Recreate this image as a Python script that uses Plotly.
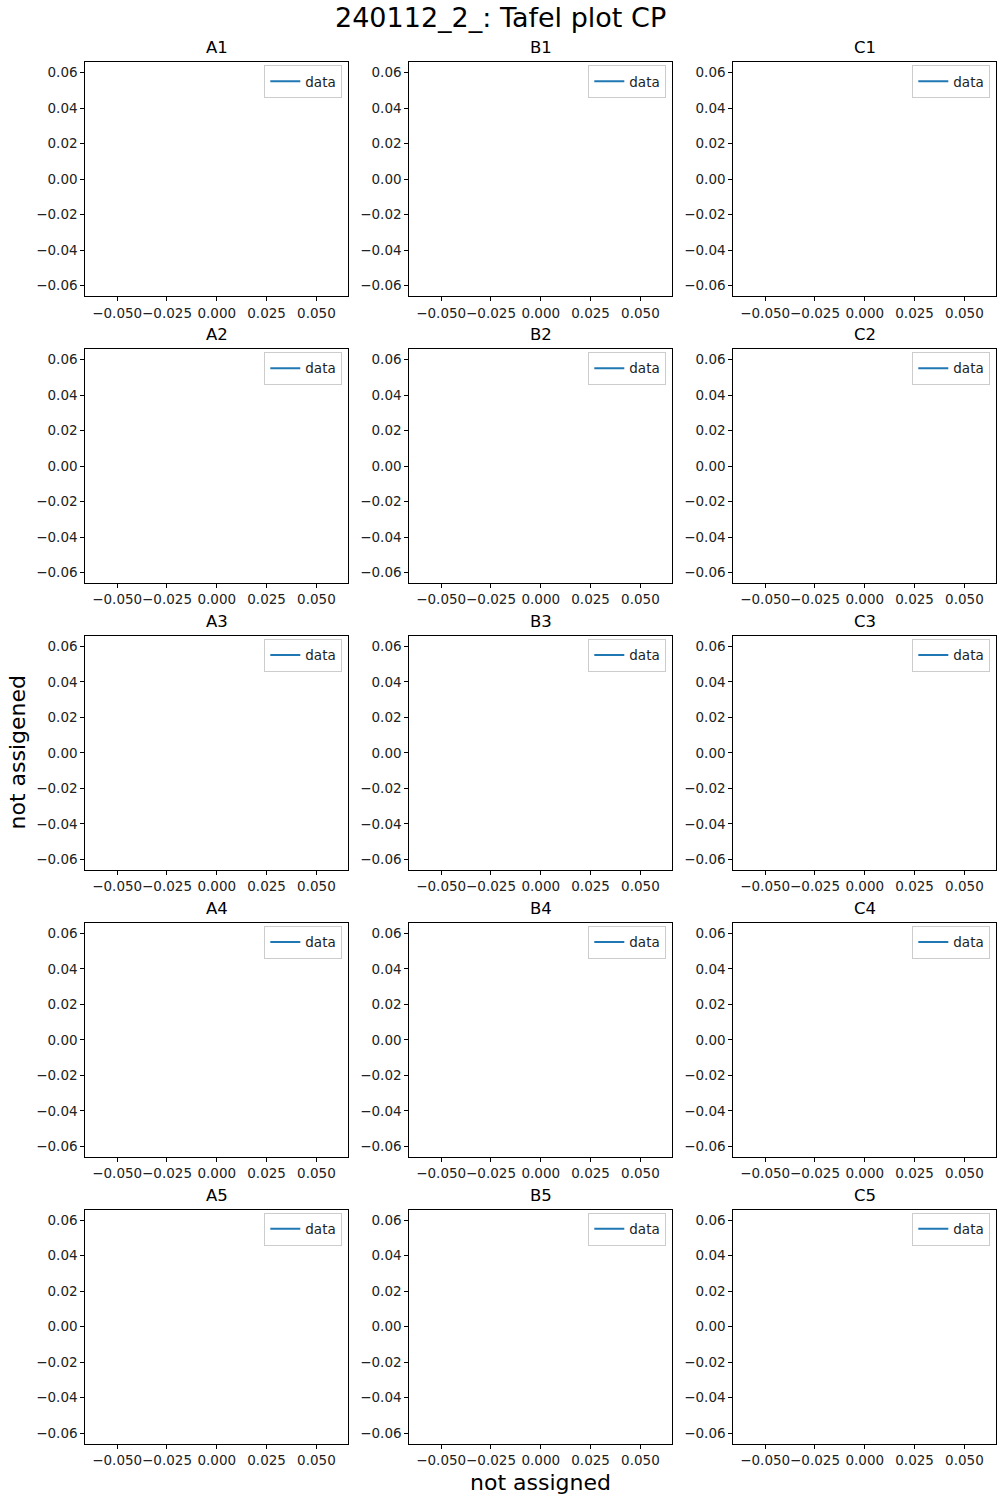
import plotly.graph_objects as go

# ---- data ----
rows = ["1", "2", "3", "4", "5"]
cols = ["A", "B", "C"]
series_name = "data"
series_x = [None]   # no measured points in any panel
series_y = [None]
tick_vals_x = [-0.05, -0.025, 0.0, 0.025, 0.05]
tick_text_x = ["\u22120.050", "\u22120.025", "0.000", "0.025", "0.050"]
tick_vals_y = [-0.06, -0.04, -0.02, 0.0, 0.02, 0.04, 0.06]
tick_text_y = ["\u22120.06", "\u22120.04", "\u22120.02", "0.00", "0.02", "0.04", "0.06"]
axis_range = [-0.066, 0.066]
suptitle = "240112_2_: Tafel plot CP"
xlabel = "not assigned"
ylabel = "not assigened"

W, H = 1000, 1500
FONT = "DejaVu Sans"

fig = go.Figure()
layout = dict(
    width=W, height=H, margin=dict(l=0, r=0, t=0, b=0),
    paper_bgcolor="white", plot_bgcolor="white",
    font=dict(family=FONT, size=14, color="black"),
    showlegend=True,
)
annotations = []

left0, pw, dx = 85.3, 263.0, 324.0
top0, ph, dy = 62.0, 234.3, 286.9

n = 0
for r, rl in enumerate(rows):
    for c, cl in enumerate(cols):
        n += 1
        xa = "xaxis" if n == 1 else f"xaxis{n}"
        ya = "yaxis" if n == 1 else f"yaxis{n}"
        xr = "x" if n == 1 else f"x{n}"
        yr = "y" if n == 1 else f"y{n}"
        lg = "legend" if n == 1 else f"legend{n}"
        L = left0 + c * dx
        T = top0 + r * dy
        x0, x1 = L / W, (L + pw) / W
        y1, y0 = 1 - T / H, 1 - (T + ph) / H
        common = dict(showline=True, linecolor="black", linewidth=1, mirror=True,
                      ticks="outside", ticklen=4, tickwidth=1, tickcolor="black",
                      showgrid=False, zeroline=False, range=axis_range, tickangle=0,
                      tickfont=dict(family=FONT, size=13.5, color="#222"))
        layout[xa] = dict(domain=[x0, x1], anchor=yr, tickvals=tick_vals_x,
                          ticktext=tick_text_x, **common)
        layout[ya] = dict(domain=[y0, y1], anchor=xr, tickvals=tick_vals_y,
                          ticktext=tick_text_y, **common)
        layout[lg] = dict(x=(L + pw - 6) / W, y=1 - (T + 3) / H,
                          xanchor="right", yanchor="top", xref="paper", yref="paper",
                          bgcolor="white", bordercolor="#cccccc", borderwidth=1,
                          font=dict(family=FONT, size=13.5, color="#222"),
                          itemwidth=30, tracegroupgap=0)
        fig.add_trace(go.Scatter(x=series_x, y=series_y, mode="lines", name=series_name,
                                 line=dict(color="#1f77b4", width=2),
                                 xaxis=xr, yaxis=yr, legend=lg, showlegend=True))
        annotations.append(dict(text=f"{cl}{rl}", x=(L + pw / 2) / W, y=1 - (T - 3) / H,
                                xref="paper", yref="paper", xanchor="center",
                                yanchor="bottom", showarrow=False,
                                font=dict(family=FONT, size=16.5, color="black")))

annotations.append(dict(text=suptitle, x=0.5, y=1 - 0 / H, xref="paper", yref="paper",
                        xanchor="center", yanchor="top", showarrow=False,
                        font=dict(family=FONT, size=27, color="black")))
annotations.append(dict(text=xlabel, x=540 / W, y=1 - 1497 / H, xref="paper", yref="paper",
                        xanchor="center", yanchor="bottom", showarrow=False,
                        font=dict(family=FONT, size=22, color="black")))
annotations.append(dict(text=ylabel, x=2 / W, y=1 - 753 / H, xref="paper", yref="paper",
                        xanchor="left", yanchor="middle", textangle=-90, showarrow=False,
                        font=dict(family=FONT, size=22, color="black")))
layout["annotations"] = annotations
fig.update_layout(**layout)
fig.write_html("out.html")
